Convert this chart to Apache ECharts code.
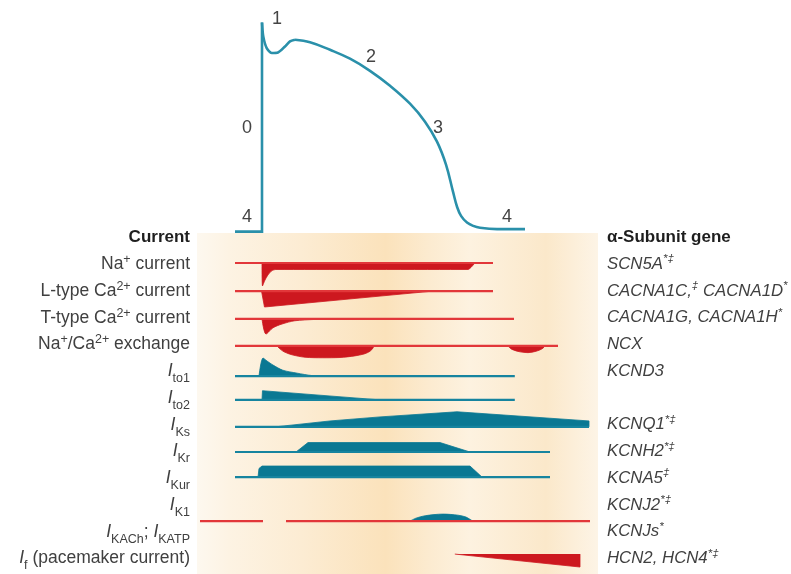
<!DOCTYPE html>
<html><head><meta charset="utf-8">
<script src="https://cdn.jsdelivr.net/npm/echarts@6/dist/echarts.min.js"></script>
<style>html,body{margin:0;padding:0;background:#fff}#c{width:791px;height:574px}</style>
</head><body><div id="c"></div>
<script>
// ---------- DATA ----------
// Action potential: [time (ms), membrane potential (mV)]
const apUpstroke = [[-33.75,-85],[0,-85],[0,39.6]];
const apSpike = [[0,39.6],[1.6,31.3],[5.9,24.3],[12.1,21.4],[20,21.7],[28.75,25.3],[35,28.3],[41.25,29.3]];
const apRepolarisation = [[41.25,29.3],[60,27.8],[85,23.3],[110,18.0],[135,10.8],[160,1.9],[185,-8.8],[203.75,-19.5],[218.75,-31.4],[230,-45.1],[238.75,-61.2],[244,-70.5],[249,-75.8],[256.25,-79.6],[264,-81.6],[272.5,-82.7],[293.75,-83.5],[328.75,-83.5]];
const phaseLabels = ['0','1','2','3','4','4'];

// Currents: [time (ms), relative amplitude] (outward > 0, inward < 0)
const naCurrent   = [[0,0],[0.6,-0.85],[3.75,-0.63],[7.5,-0.44],[12.5,-0.28],[17.5,-0.24],[257.5,-0.24],[266,0]];
const lTypeCa     = [[-0.6,0],[3.1,-0.59],[213.75,0]];
const tTypeCa     = [[0,0],[5,-0.56],[13.75,-0.33],[25,-0.19],[41,-0.07],[66,-0.02],[85,0]];
const naCaExchange= [[18.75,0],[22.5,-0.11],[27.5,-0.22],[37.5,-0.33],[53.75,-0.42],[76,-0.44],[97.5,-0.43],[116,-0.37],[127.5,-0.30],[135,-0.20],[139,-0.07],[140,0],[306,0],[312.5,-0.13],[322.5,-0.22],[332.5,-0.25],[342.5,-0.2],[350,-0.11],[354,0]];
const iTo1        = [[-3.75,0],[1.25,0.67],[6.25,0.56],[13.75,0.41],[26,0.22],[44,0.11],[62.5,0.02],[79,0]];
const iTo2        = [[0,0],[0.6,0.34],[2.5,0.38],[147.5,0]];
const iKs         = [[16.25,0],[85,0.22],[147.5,0.37],[243.75,0.56],[408.75,0.22],[408.75,0]];
const iKr         = [[42.5,0],[57.5,0.35],[222.5,0.35],[260,0]];
const iKur        = [[-5,0],[-3.75,0.32],[0,0.41],[260,0.41],[275,0]];
const iK1         = [[185,0],[192.5,0.11],[204,0.2],[226,0.26],[245,0.22],[255,0.15],[262.5,0.02],[264,0]];
const iF          = [[241,0],[397.5,-0.48],[397.5,0]];

// Time spans of each trace's zero line [start, end] (ms)
const spanNa   = [[-33.75,288.75]];
const spanL    = [[-33.75,288.75]];
const spanT    = [[-33.75,315]];
const spanNCX  = [[-33.75,370]];
const spanTo1  = [[-33.75,316]];
const spanTo2  = [[-33.75,316]];
const spanKs   = [[-33.75,408.75]];
const spanKr   = [[-33.75,360]];
const spanKur  = [[-33.75,360]];
const spanKATP = [[-77.5,1.25],[30,410]];

// Text
const currentLabels = [
  '{b|Current}',
  '{n|Na}{sup|+}{n| current}',
  '{n|L-type Ca}{sup|2+}{n| current}',
  '{n|T-type Ca}{sup|2+}{n| current}',
  '{n|Na}{sup|+}{n|/Ca}{sup|2+}{n| exchange}',
  '{i|I}{sub|to1}',
  '{i|I}{sub|to2}',
  '{i|I}{sub|Ks}',
  '{i|I}{sub|Kr}',
  '{i|I}{sub|Kur}',
  '{i|I}{sub|K1}',
  '{i|I}{sub|KACh}{n|; }{i|I}{sub|KATP}',
  '{i|I}{sub|f}{n| (pacemaker current)}'
];
const geneLabels = [
  '{b|α-Subunit gene}',
  '{g|SCN5A}{gs|*‡}',
  '{g|CACNA1C,}{gs|‡}{g| CACNA1D}{gs|*}',
  '{g|CACNA1G, CACNA1H}{gs|*}',
  '{g|NCX}',
  '{g|KCND3}',
  '',
  '{g|KCNQ1}{gs|*‡}',
  '{g|KCNH2}{gs|*‡}',
  '{g|KCNA5}{gs|‡}',
  '{g|KCNJ2}{gs|*‡}',
  '{g|KCNJs}{gs|*}',
  '{g|HCN2, HCN4}{gs|*‡}'
];

// ---------- LAYOUT / STYLE ----------
const RED_LINE = '#e2373a', RED_FILL = '#cd181f';
const TEAL_LINE = '#16849f', TEAL_FILL = '#0a7893', AP_COLOR = '#2a90aa';
const FONT = 'Liberation Sans', TXT = '#404040';
// baseline of each row in row units
const rowBase = {na:0, l:1.04, t:2.07, ncx:3.07, to1:4.19, to2:5.07, ks:6.07, kr:7.0, kur:7.93, katp:9.56, f:10.78};
const labelY0 = 237.5, labelDY = 26.75;
const phasePos = [[247,128],[277,19],[371,57],[438,128],[247,217],[507,217]];

const chart = echarts.init(document.getElementById('c'), null, {renderer:'canvas'});

function areaSeries(shape, base, color, smooth) {
  return {type:'line', xAxisIndex:1, yAxisIndex:1, silent:true, animation:false,
    data: shape.map(p => [p[0], base - p[1]]), symbol:'none', smooth: smooth || false,
    lineStyle:{width:0.8, color:color}, areaStyle:{color:color, opacity:1, origin:base}, z:3};
}
function baseSeries(spans, base, color) {
  return spans.map(s => ({type:'line', xAxisIndex:1, yAxisIndex:1, silent:true, animation:false,
    data:[[s[0],base],[s[1],base]], symbol:'none', lineStyle:{width:2.2, color:color, cap:'butt'}, z:4}));
}

const series = [
  {type:'line', xAxisIndex:0, yAxisIndex:0, data:apUpstroke, symbol:'none', lineStyle:{width:2.6,color:AP_COLOR,join:'miter'}, z:5},
  {type:'line', xAxisIndex:0, yAxisIndex:0, data:apSpike, symbol:'none', smooth:0.25, lineStyle:{width:2.6,color:AP_COLOR}, z:5},
  {type:'line', xAxisIndex:0, yAxisIndex:0, data:apRepolarisation, symbol:'none', smooth:0.4, lineStyle:{width:2.6,color:AP_COLOR}, z:5},
  areaSeries(naCurrent, rowBase.na, RED_FILL, 0.2),
  areaSeries(lTypeCa, rowBase.l, RED_FILL, false),
  areaSeries(tTypeCa, rowBase.t, RED_FILL, 0.3),
  areaSeries(naCaExchange, rowBase.ncx, RED_FILL, 0.3),
  areaSeries(iTo1, rowBase.to1, TEAL_FILL, 0.3),
  areaSeries(iTo2, rowBase.to2, TEAL_FILL, false),
  areaSeries(iKs, rowBase.ks, TEAL_FILL, false),
  areaSeries(iKr, rowBase.kr, TEAL_FILL, false),
  areaSeries(iKur, rowBase.kur, TEAL_FILL, false),
  areaSeries(iK1, rowBase.katp, TEAL_FILL, 0.3),
  areaSeries(iF, rowBase.f, RED_FILL, false),
  ...baseSeries(spanNa, rowBase.na, RED_LINE),
  ...baseSeries(spanL, rowBase.l, RED_LINE),
  ...baseSeries(spanT, rowBase.t, RED_LINE),
  ...baseSeries(spanNCX, rowBase.ncx, RED_LINE),
  ...baseSeries(spanTo1, rowBase.to1, TEAL_LINE),
  ...baseSeries(spanTo2, rowBase.to2, TEAL_LINE),
  ...baseSeries(spanKs, rowBase.ks, TEAL_LINE),
  ...baseSeries(spanKr, rowBase.kr, TEAL_LINE),
  ...baseSeries(spanKur, rowBase.kur, TEAL_LINE),
  ...baseSeries(spanKATP, rowBase.katp, RED_LINE)
];

const FS = 17.5, GFS = 16.8;
const richStyle = {
  n:{fontSize:FS, fontFamily:FONT, fill:TXT, lineHeight:22},
  b:{fontSize:17, fontFamily:FONT, fill:'#1e1e1e', fontWeight:'bold', lineHeight:22},
  sup:{fontSize:12.5, fontFamily:FONT, fill:TXT, lineHeight:14, verticalAlign:'top'},
  i:{fontSize:FS, fontFamily:FONT, fill:TXT, fontStyle:'italic', lineHeight:28},
  sub:{fontSize:12.5, fontFamily:FONT, fill:TXT, lineHeight:13, verticalAlign:'bottom'},
  g:{fontSize:GFS, fontFamily:FONT, fill:TXT, fontStyle:'italic', lineHeight:22},
  gs:{fontSize:11.5, fontFamily:FONT, fill:TXT, fontStyle:'italic', lineHeight:16, verticalAlign:'top'}
};

const graphics = [{
  type:'rect', z:-10, silent:true,
  shape:{x:197, y:233, width:401, height:341},
  style:{fill:{type:'linear', x:0, y:0, x2:1, y2:0, colorStops:[
    {offset:0, color:'#fdf8ef'},{offset:0.08, color:'#fdf3e3'},{offset:0.26, color:'#fcecd3'},
    {offset:0.47, color:'#fbe2bb'},{offset:0.58, color:'#fcebd0'},{offset:0.68, color:'#fdf2e0'},
    {offset:0.87, color:'#fbe8ca'},{offset:1, color:'#fdf4e6'}]}}
}];
currentLabels.forEach((t, i) => graphics.push({type:'text', z:10, silent:true,
  style:{text:t, x:190, y:labelY0 + labelDY*i, align:'right', verticalAlign:'middle', rich:richStyle,
    font:FS+'px "'+FONT+'"', fill:TXT}}));
geneLabels.forEach((t, i) => { if (t) graphics.push({type:'text', z:10, silent:true,
  style:{text:t, x:607, y:labelY0 + labelDY*i, align:'left', verticalAlign:'middle', rich:richStyle,
    font:GFS+'px "'+FONT+'"', fill:TXT}}); });
phaseLabels.forEach((t, i) => graphics.push({type:'text', z:10, silent:true,
  style:{text:t, x:phasePos[i][0], y:phasePos[i][1], align:'center', verticalAlign:'middle',
    font:'18px "'+FONT+'"', fill:'#444'}}));

chart.setOption({
  animation:false,
  backgroundColor:'#ffffff',
  grid:[{left:0, right:0, top:5, height:235}, {left:0, right:0, top:236, height:337.5}],
  xAxis:[{type:'value', gridIndex:0, min:-327.5, max:661.25, show:false},
         {type:'value', gridIndex:1, min:-327.5, max:661.25, show:false}],
  yAxis:[{type:'value', gridIndex:0, min:-90, max:50, show:false},
         {type:'value', gridIndex:1, min:-1, max:11.5, inverse:true, show:false}],
  graphic: graphics,
  series: series
});
</script></body></html>
